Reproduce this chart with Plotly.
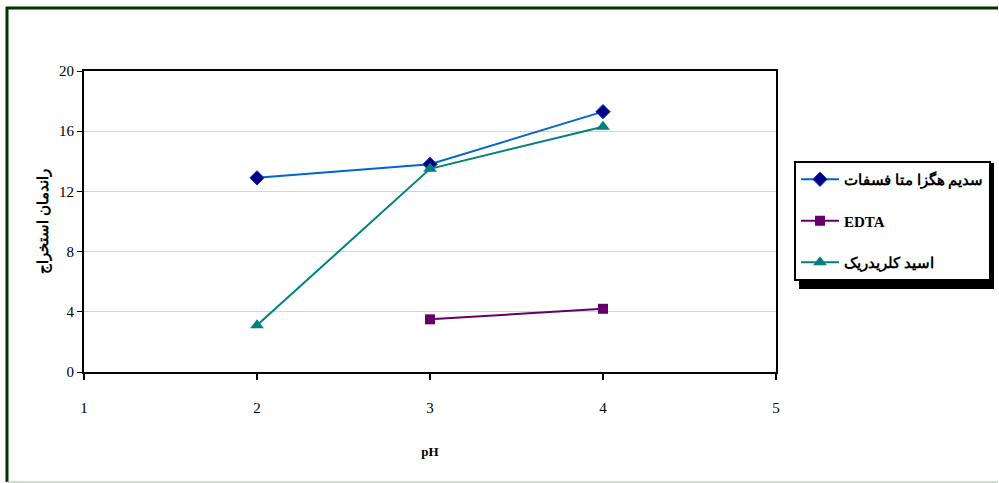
import plotly.graph_objects as go

ph = [1, 2, 3, 4, 5]
s1_name = "سدیم هگزا متا فسفات"
s1_x = [2, 3, 4]
s1_y = [12.9, 13.8, 17.3]
s2_name = "EDTA"
s2_x = [3, 4]
s2_y = [3.5, 4.2]
s3_name = "اسید کلریدریک"
s3_x = [2, 3, 4]
s3_y = [3.1, 13.5, 16.3]
y_ticks = [0, 4, 8, 12, 16, 20]

L, R, T, B = 84, 776, 71, 372
W, H = 999, 483

def px(x):
    return (x - L) / (R - L)

def py(y):
    return (B - y) / (B - T)

fig = go.Figure()
fig.add_trace(go.Scatter(x=s1_x, y=s1_y, name=s1_name, mode="lines+markers", legendgroup="a",
                         line=dict(color="#0066CC", width=2),
                         marker=dict(symbol="diamond", size=11, color="#000080", line=dict(color="#0033CC", width=1))))
fig.add_trace(go.Scatter(x=s2_x, y=s2_y, name=s2_name, mode="lines+markers", legendgroup="b",
                         line=dict(color="#660066", width=2),
                         marker=dict(symbol="square", size=10, color="#660066")))
fig.add_trace(go.Scatter(x=s3_x, y=s3_y, name=s3_name, mode="lines+markers", legendgroup="c",
                         line=dict(color="#008080", width=2),
                         marker=dict(symbol="triangle-up", size=12, color="#008080")))

shapes = [
    # outer frame
    dict(type="line", xref="paper", yref="paper", x0=px(6), x1=px(998), y0=py(8), y1=py(8),
         line=dict(color="#003300", width=3), layer="above"),
    dict(type="line", xref="paper", yref="paper", x0=px(7), x1=px(7), y0=py(7), y1=py(482),
         line=dict(color="#003300", width=3), layer="above"),
    dict(type="line", xref="paper", yref="paper", x0=px(7), x1=px(998), y0=py(482), y1=py(482),
         line=dict(color="#9fb89f", width=1), layer="above"),
    # legend shadow
    dict(type="rect", xref="paper", yref="paper", x0=px(799), x1=px(994), y0=py(163), y1=py(289),
         fillcolor="#000000", line=dict(width=0), layer="below"),
]

fig.update_layout(
    width=W, height=H,
    margin=dict(l=L, r=W - R, t=T, b=H - B, autoexpand=False),
    paper_bgcolor="white", plot_bgcolor="white",
    font=dict(family="Liberation Serif", size=15, color="black"),
    showlegend=True,
    legend=dict(x=px(794), y=py(161), xanchor="left", yanchor="top",
                bgcolor="white", bordercolor="black", borderwidth=2,
                font=dict(family="Liberation Serif", size=15, color="black", weight="bold"),
                tracegroupgap=19, itemwidth=38),
    shapes=shapes,
    xaxis=dict(range=[1, 5], tickvals=ph, ticktext=[str(v) for v in ph],
               showgrid=False, zeroline=False, showline=True, linecolor="black", linewidth=2,
               mirror=True, ticks="outside", ticklen=6, tickwidth=2, tickcolor="black",
               ticklabelstandoff=15, tickfont=dict(color="black", size=15),
               title=dict(text="pH", font=dict(family="Liberation Serif", size=13, weight="bold"), standoff=32)),
    yaxis=dict(range=[0, 20], tickvals=y_ticks, ticktext=[str(v) for v in y_ticks],
               showgrid=True, gridcolor="#d4d4d4", gridwidth=1, zeroline=False,
               showline=True, linecolor="black", linewidth=2, mirror=True,
               ticks="outside", ticklen=5, tickwidth=1, tickcolor="black",
               tickfont=dict(color="black", size=15),
               title=dict(text="راندمان استخراج", font=dict(family="Noto Sans", size=15, weight="bold"), standoff=7)),
)

fig.write_html("out.html", config={"displayModeBar": False},
               post_script="document.body.style.margin='0px';document.body.style.overflow='hidden';")
